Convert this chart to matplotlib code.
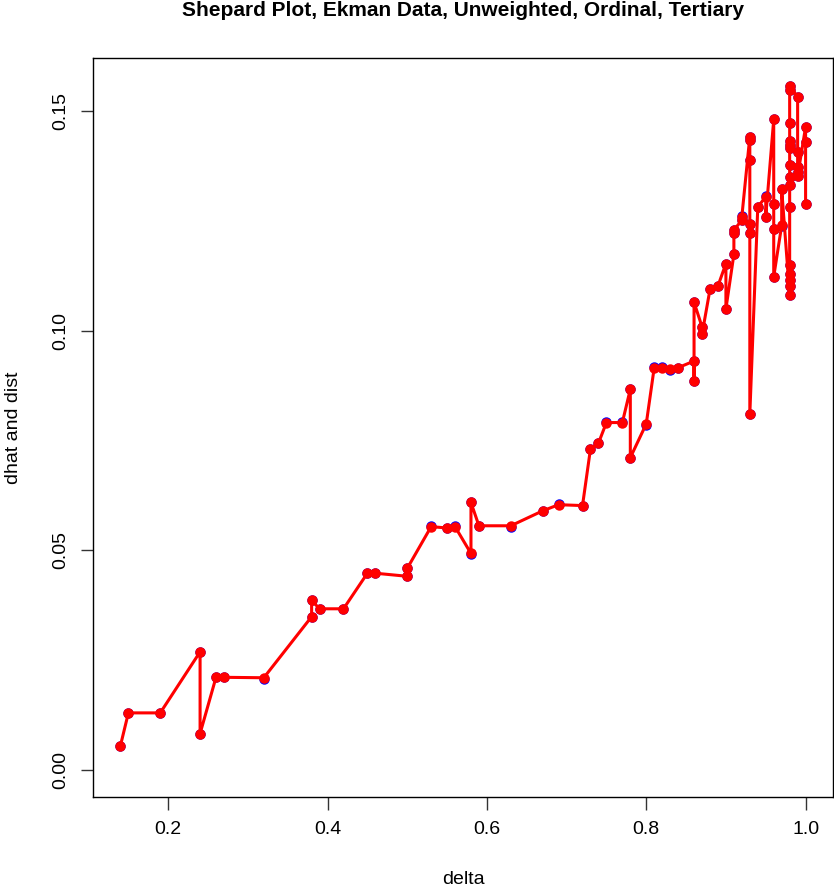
import matplotlib
matplotlib.use("Agg")
import matplotlib.pyplot as plt

plt.rcParams['font.family'] = ['Liberation Sans', 'DejaVu Sans']

# delta values (sorted, ties kept in plotted order)
delta = [0.14, 0.15, 0.19, 0.24, 0.24, 0.26, 0.27, 0.32, 0.38, 0.38,
         0.39, 0.42, 0.45, 0.46, 0.50, 0.50, 0.53, 0.55, 0.56, 0.58,
         0.58, 0.59, 0.63, 0.67, 0.69, 0.72, 0.73, 0.74, 0.75, 0.77,
         0.78, 0.78, 0.80, 0.81, 0.82, 0.83, 0.84, 0.86, 0.86, 0.86,
         0.87, 0.87, 0.88, 0.89, 0.90, 0.90, 0.91, 0.91, 0.91, 0.92,
         0.92, 0.93, 0.93, 0.93, 0.93, 0.93, 0.93, 0.94, 0.95, 0.95,
         0.96, 0.96, 0.96, 0.96, 0.97, 0.97,
         0.98, 0.98, 0.98, 0.98, 0.98, 0.98, 0.98, 0.98, 0.98, 0.98,
         0.98, 0.98, 0.98, 0.98, 0.98,
         0.99, 0.99, 0.99, 0.99, 0.99, 1.00, 1.00, 1.00]

# fitted disparities (red)
dhat = [0.0055, 0.0130, 0.0130, 0.0269, 0.0083, 0.0211, 0.0211, 0.0210, 0.0349, 0.0386,
        0.0367, 0.0367, 0.0448, 0.0448, 0.0441, 0.0459, 0.0554, 0.0551, 0.0554, 0.0493,
        0.0609, 0.0556, 0.0556, 0.0590, 0.0604, 0.0602, 0.0731, 0.0744, 0.0791, 0.0791,
        0.0867, 0.0711, 0.0788, 0.0916, 0.0916, 0.0913, 0.0916, 0.0931, 0.0885, 0.1065,
        0.1009, 0.0992, 0.1094, 0.1102, 0.1153, 0.1050, 0.1174, 0.1222, 0.1229, 0.1252,
        0.1260, 0.1442, 0.1434, 0.1389, 0.1243, 0.1223, 0.0810, 0.1282, 0.1305, 0.1260,
        0.1481, 0.1288, 0.1232, 0.1123, 0.1240, 0.1322,
        0.1081, 0.1102, 0.1115, 0.1129, 0.1149, 0.1282, 0.1332, 0.1351, 0.1377, 0.1417,
        0.1423, 0.1433, 0.1472, 0.1548, 0.1557,
        0.1533, 0.1407, 0.1373, 0.1362, 0.1352, 0.1464, 0.1429, 0.1288]

# configuration distances (blue, mostly hidden below the red points)
dist = [0.0055, 0.0130, 0.0130, 0.0269, 0.0083, 0.0211, 0.0211, 0.0208, 0.0349, 0.0386,
        0.0367, 0.0367, 0.0448, 0.0448, 0.0441, 0.0459, 0.0556, 0.0550, 0.0556, 0.0491,
        0.0609, 0.0556, 0.0554, 0.0590, 0.0606, 0.0600, 0.0731, 0.0744, 0.0793, 0.0793,
        0.0867, 0.0711, 0.0786, 0.0918, 0.0918, 0.0911, 0.0915, 0.0931, 0.0885, 0.1065,
        0.1009, 0.0992, 0.1094, 0.1102, 0.1153, 0.1050, 0.1174, 0.1222, 0.1229, 0.1252,
        0.1262, 0.1442, 0.1434, 0.1389, 0.1243, 0.1223, 0.0810, 0.1282, 0.1306, 0.1259,
        0.1481, 0.1288, 0.1232, 0.1123, 0.1238, 0.1323,
        0.1081, 0.1102, 0.1115, 0.1129, 0.1149, 0.1282, 0.1332, 0.1351, 0.1377, 0.1417,
        0.1423, 0.1433, 0.1472, 0.1548, 0.1557,
        0.1533, 0.1407, 0.1373, 0.1362, 0.1352, 0.1464, 0.1429, 0.1288]

xticks = [0.2, 0.4, 0.6, 0.8, 1.0]
yticks = [0.00, 0.05, 0.10, 0.15]

fig = plt.figure(figsize=(8.34, 8.90), dpi=100)
ax = fig.add_axes([93 / 834, 1 - 797 / 890, (833 - 93) / 834, (797 - 58) / 890])

ax.plot(delta, dist, 'o', color='blue', markersize=6.5, zorder=2)
ax.plot(delta, dhat, '-', color='red', linewidth=2.2, zorder=3)
ax.plot(delta, dhat, 'o', color='red', markersize=6.5, zorder=4)

ax.set_xlim(0.1056, 1.0344)
ax.set_ylim(-0.00615, 0.1621)

ax.set_xticks(xticks)
ax.set_xticklabels(['0.2', '0.4', '0.6', '0.8', '1.0'])
ax.set_yticks(yticks)
ax.set_yticklabels(['0.00', '0.05', '0.10', '0.15'], rotation=90, va='center')
ax.tick_params(direction='out', length=9, width=1, labelsize=14, pad=8, color='#333333')

for s in ax.spines.values():
    s.set_linewidth(1)

ax.set_xlabel('delta', fontsize=14, labelpad=24)
ax.set_ylabel('dhat and dist', fontsize=14, labelpad=22)
ax.set_title('Shepard Plot, Ekman Data, Unweighted, Ordinal, Tertiary',
             fontsize=15, fontweight='bold', pad=30)

fig.savefig('out.png', dpi=100)
